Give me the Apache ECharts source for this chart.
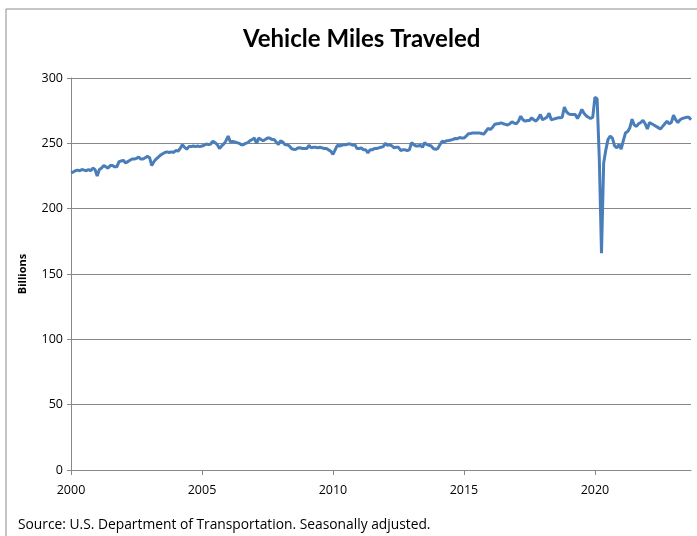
<!DOCTYPE html>
<html>
<head>
<meta charset="utf-8">
<script src="https://cdn.jsdelivr.net/npm/echarts@6/dist/echarts.min.js"></script>
<style>html,body{margin:0;padding:0;background:#fff}#c{width:697px;height:536px}</style>
</head>
<body>
<div id="c"></div>
<script>
var startYear = 2000;
var yearTicks = [2000, 2005, 2010, 2015, 2020];
var y2000 = [227.5, 228, 229, 229.5, 229, 230, 229.5, 229, 230, 229, 231, 230];
var y2001 = [225, 230, 231, 233, 232, 231, 233, 233, 232, 232, 236, 236.5];
var y2002 = [237, 235, 236, 237, 238, 238, 238.5, 239.5, 238, 238, 239, 240];
var y2003 = [239, 233, 236, 238, 239.5, 241, 242, 243, 243.5, 243, 243.5, 243];
var y2004 = [244.5, 244, 246, 249, 247, 245.5, 247.5, 247.5, 248, 247.5, 248, 247.5];
var y2005 = [248, 248.5, 249.5, 249, 249.5, 251.7, 250.5, 249, 246, 248, 249.5, 252];
var y2006 = [255.5, 251, 251.5, 251, 250.5, 250, 249, 249, 250, 250.5, 252, 253];
var y2007 = [254, 250, 254, 253, 252, 253, 254, 254, 253, 253, 251, 249];
var y2008 = [252, 251, 249, 249, 248, 246, 245.3, 245.5, 246.5, 246.7, 246, 246];
var y2009 = [246, 248.5, 246.5, 247, 247, 246.5, 247, 246.5, 246, 246, 245, 244];
var y2010 = [241.5, 245, 248.5, 248, 248.5, 249, 249, 249.5, 249.5, 248.5, 249, 246];
var y2011 = [246, 246.5, 245, 245, 242.8, 245, 245, 246, 246, 246.5, 247, 247.5];
var y2012 = [250, 248.5, 249, 248, 246.6, 247, 247, 244.5, 245, 245, 244.5, 245];
var y2013 = [250.5, 249, 248, 248, 248.5, 247, 250.5, 249, 248.5, 248, 246, 245.3];
var y2014 = [246, 249, 251.6, 251, 252, 252.2, 252.5, 253, 253.7, 253.5, 254.5, 254];
var y2015 = [254, 255.5, 257.3, 257.5, 258, 258, 258, 258, 257.5, 257, 259, 261.4];
var y2016 = [260.6, 262, 264.4, 265, 265, 265.7, 265, 264.5, 264, 265, 266.5, 265.5];
var y2017 = [265, 267, 270.8, 268, 267, 267.5, 267.5, 269.6, 268, 267, 269, 272];
var y2018 = [268, 269, 270, 273, 268, 268.5, 269, 269.5, 269.5, 270, 277.7, 274];
var y2019 = [272.5, 272, 272, 272, 269, 272, 276, 273, 271, 270, 269, 270];
var y2020 = [285.3, 284, 238, 166, 235, 245, 253, 255.5, 254, 248, 246.6, 249];
var y2021 = [245.6, 252, 258, 259, 262, 268.5, 264, 263, 265, 266, 267.7, 265];
var y2022 = [261, 266, 265, 264, 263, 262, 261, 263, 265, 267, 265, 266];
var y2023 = [271.5, 268, 266, 268, 269, 269.5, 270, 270, 268];

var years = [y2000,y2001,y2002,y2003,y2004,y2005,y2006,y2007,y2008,y2009,y2010,y2011,y2012,y2013,y2014,y2015,y2016,y2017,y2018,y2019,y2020,y2021,y2022,y2023];
var data = [];
years.forEach(function(arr, yi){
  arr.forEach(function(v, m){ data.push([startYear + yi + m/12, v]); });
});
var xMax = data[data.length-1][0];

var chart = echarts.init(document.getElementById('c'));
chart.setOption({
  animation: false,
  backgroundColor: '#fff',
  title: {
    text: 'Vehicle Miles Traveled',
    left: 238, top: 22,
    textStyle: {fontFamily: 'Lato', fontWeight: 'bold', fontSize: 24, color: '#000'}
  },
  grid: {left: 71, right: 6, top: 78, bottom: 66},
  xAxis: {
    type: 'value', min: 2000, max: xMax, interval: 5,
    axisLine: {show: true, lineStyle: {color: '#888', width: 1}},
    axisTick: {show: true, length: 5, lineStyle: {color: '#888'}},
    splitLine: {show: false},
    axisLabel: {
      showMaxLabel: false, margin: 14, color: '#000', fontSize: 12.5, fontFamily: 'Open Sans',
      formatter: function(v){ return yearTicks.indexOf(Math.round(v)) >= 0 ? String(Math.round(v)) : ''; }
    }
  },
  yAxis: {
    type: 'value', min: 0, max: 300, interval: 50,
    name: 'Billions', nameLocation: 'middle', nameGap: 43, nameRotate: 90,
    nameTextStyle: {fontFamily: 'Open Sans', fontWeight: 'bold', fontSize: 11, color: '#000'},
    axisLine: {show: true, lineStyle: {color: '#888', width: 1}},
    axisTick: {show: true, length: 4, lineStyle: {color: '#888'}},
    splitLine: {show: true, lineStyle: {color: '#888', width: 1}},
    axisLabel: {color: '#000', fontSize: 12.5, fontFamily: 'Open Sans', margin: 8}
  },
  series: [{
    type: 'line', data: data, showSymbol: false, symbol: 'none',
    lineStyle: {color: '#4A7EBB', width: 3}, z: 3
  }],
  graphic: [
    {type: 'rect', shape: {x: 6, y: 9, width: 720, height: 560}, style: {fill: 'none', stroke: '#8c8c8c', lineWidth: 1}, silent: true},
    {type: 'text', left: 18, top: 518, style: {text: 'Source: U.S. Department of Transportation. Seasonally adjusted.', fontFamily: 'Open Sans', fontSize: 13.8, fill: '#000'}}
  ]
});
</script>
</body>
</html>
